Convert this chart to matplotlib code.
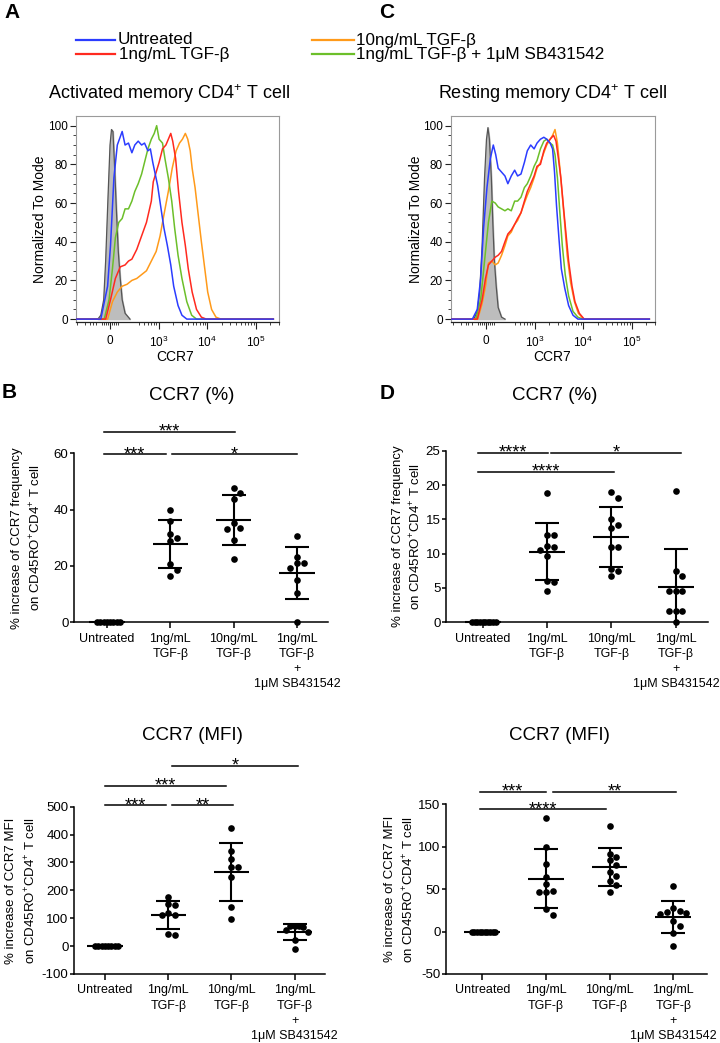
import numpy as np
import matplotlib
matplotlib.use("Agg")
import matplotlib.pyplot as plt
from matplotlib.lines import Line2D

plt.rcParams["font.family"] = ["Liberation Sans", "DejaVu Sans"]
plt.rcParams["mathtext.fontset"] = "custom"
plt.rcParams["mathtext.rm"] = "Liberation Sans"
plt.rcParams["mathtext.it"] = "Liberation Sans:italic"
plt.rcParams["mathtext.bf"] = "Liberation Sans:bold"
plt.rcParams["axes.unicode_minus"] = False

W, H = 720, 1043

# ---------------- histogram data ----------------
# x in biexponential display units (0 -> 0, 1 -> 10^3, 2 -> 10^4, 3 -> 10^5), y = % of mode
act_iso_x = [-0.25, -0.19, -0.13, -0.09, -0.04, 0.00, 0.03, 0.06, 0.09, 0.13, 0.17, 0.21, 0.25, 0.31, 0.41]
act_iso_y = [0, 2, 10, 30, 64, 90, 98, 97, 81, 57, 35, 21, 10, 3, 0]
act_untr_x = [-0.19, -0.05, 0.01, 0.08, 0.15, 0.25, 0.31, 0.38, 0.45, 0.51, 0.58, 0.65, 0.71, 0.78, 0.83,
              0.88, 0.98, 1.05, 1.11, 1.18, 1.25, 1.31, 1.40, 1.48, 1.58]
act_untr_y = [0, 17, 38, 73, 90, 97, 90, 91, 86, 90, 92, 90, 91, 87, 88, 81, 69, 57, 47, 38, 28, 17, 7, 2, 0]
act_tgf1_x = [-0.09, 0.01, 0.11, 0.21, 0.31, 0.38, 0.45, 0.55, 0.65, 0.75, 0.85, 0.89, 0.95, 1.01, 1.08,
              1.15, 1.20, 1.25, 1.29, 1.35, 1.41, 1.48, 1.55, 1.61, 1.69, 1.78, 1.88, 1.98]
act_tgf1_y = [0, 10, 21, 27, 28, 30, 31, 36, 43, 50, 61, 71, 76, 81, 88, 90, 93, 96, 92, 83, 66, 50, 38, 26,
              14, 5, 1, 0]
act_tgf10_x = [-0.05, 0.05, 0.15, 0.25, 0.35, 0.45, 0.55, 0.65, 0.75, 0.85, 0.95, 1.03, 1.11, 1.20, 1.28,
               1.36, 1.43, 1.49, 1.55, 1.60, 1.65, 1.69, 1.75, 1.81, 1.88, 1.95, 2.01, 2.09, 2.18, 2.28]
act_tgf10_y = [0, 9, 14, 17, 18, 20, 21, 23, 25, 30, 35, 43, 54, 66, 78, 87, 91, 93, 96, 93, 87, 78, 68, 55,
               40, 26, 14, 5, 1, 0]
act_sb_x = [-0.12, -0.02, 0.05, 0.11, 0.18, 0.25, 0.31, 0.38, 0.45, 0.51, 0.58, 0.65, 0.71, 0.78, 0.85,
            0.91, 0.96, 1.01, 1.08, 1.13, 1.20, 1.27, 1.33, 1.40, 1.48, 1.58, 1.68, 1.78]
act_sb_y = [0, 10, 26, 42, 50, 52, 57, 57, 61, 66, 70, 75, 81, 88, 93, 96, 100, 93, 91, 83, 73, 61, 47, 33,
            21, 9, 2, 0]

rest_iso_x = [-0.25, -0.18, -0.13, -0.08, -0.03, 0.01, 0.04, 0.07, 0.11, 0.14, 0.17, 0.21, 0.25, 0.32, 0.39]
rest_iso_y = [0, 4, 14, 38, 73, 93, 99, 93, 73, 50, 31, 17, 6, 1, 0]
rest_untr_x = [-0.28, -0.18, -0.11, -0.05, 0.02, 0.09, 0.15, 0.20, 0.25, 0.32, 0.39, 0.45, 0.52, 0.59, 0.65,
               0.72, 0.79, 0.85, 0.92, 0.99, 1.05, 1.12, 1.19, 1.25, 1.32, 1.37, 1.41, 1.45, 1.50, 1.55,
               1.62, 1.70, 1.79, 1.89]
rest_untr_y = [0, 5, 21, 47, 68, 83, 90, 85, 78, 76, 74, 70, 74, 77, 74, 75, 81, 87, 90, 88, 91, 93, 94, 93,
               91, 88, 76, 59, 42, 26, 16, 7, 2, 0]
rest_tgf1_x = [-0.18, -0.08, -0.01, 0.05, 0.12, 0.19, 0.25, 0.32, 0.39, 0.45, 0.52, 0.59, 0.65, 0.72, 0.79,
               0.85, 0.92, 0.99, 1.05, 1.12, 1.19, 1.25, 1.32, 1.39, 1.44, 1.49, 1.54, 1.59, 1.65, 1.70,
               1.77, 1.83, 1.92, 2.02]
rest_tgf1_y = [0, 10, 21, 28, 30, 32, 33, 35, 40, 44, 46, 49, 52, 55, 61, 66, 70, 74, 79, 80, 87, 91, 93, 95,
               92, 83, 73, 59, 43, 30, 17, 9, 3, 0]
rest_tgf10_x = [-0.17, -0.08, -0.01, 0.05, 0.12, 0.19, 0.25, 0.32, 0.39, 0.45, 0.52, 0.59, 0.65, 0.72, 0.79,
                0.85, 0.92, 0.99, 1.05, 1.12, 1.19, 1.25, 1.32, 1.37, 1.42, 1.47, 1.52, 1.57, 1.62, 1.67,
                1.74, 1.82, 1.90, 2.01]
rest_tgf10_y = [0, 8, 17, 29, 30, 28, 29, 33, 38, 43, 45, 49, 51, 55, 60, 64, 68, 73, 78, 81, 86, 90, 93, 95,
                98, 91, 78, 64, 49, 33, 19, 9, 3, 0]
rest_sb_x = [-0.21, -0.11, -0.01, 0.05, 0.12, 0.19, 0.25, 0.32, 0.39, 0.45, 0.52, 0.59, 0.65, 0.72, 0.79,
             0.85, 0.92, 0.99, 1.05, 1.12, 1.19, 1.25, 1.32, 1.37, 1.42, 1.47, 1.52, 1.57, 1.63, 1.70,
             1.79, 1.89, 1.99]
rest_sb_y = [0, 10, 35, 50, 61, 60, 58, 57, 56, 57, 56, 61, 61, 63, 68, 70, 74, 79, 82, 88, 92, 93, 91, 90,
             85, 73, 55, 38, 23, 12, 4, 1, 0]

legend_labels = ["Untreated", "1ng/mL TGF-β", "10ng/mL TGF-β", "1ng/mL TGF-β + 1μM SB431542"]
hist_colors = ["#2b3cff", "#ff2a1f", "#ff9a1a", "#6cbf2a"]
hist_xticks = [0, 1, 2, 3]
hist_xticklabels = ["0", "$10^3$", "$10^4$", "$10^5$"]

# ---------------- dot plot data ----------------
groups = ["Untreated", "1ng/mL\nTGF-β", "10ng/mL\nTGF-β", "1ng/mL\nTGF-β\n+\n1μM SB431542"]

b_pct = [[0, 0, 0, 0, 0, 0, 0, 0],
         [39.9, 36.1, 31.4, 30.1, 29.0, 20.7, 18.6, 16.4],
         [47.8, 46.0, 43.8, 35.1, 33.6, 33.0, 29.2, 22.4],
         [30.7, 23.3, 20.9, 20.9, 19.4, 15.0, 10.5, 0.0]]
b_mfi = [[0, 0, 0, 0, 0, 0, 0, 0],
         [174.5, 150.6, 147, 117, 111, 111, 41.8, 39.4],
         [424, 340.6, 310.7, 284, 284, 248.6, 141, 99],
         [72, 73, 70, 71, 58, 50, 22, -11]]
d_pct = [[0, 0, 0, 0, 0, 0, 0, 0, 0, 0],
         [18.8, 12.7, 12.7, 11.1, 11.0, 10.6, 9.6, 6.0, 5.8, 4.5],
         [19.0, 18.1, 15.0, 14.2, 13.8, 11.0, 11.0, 7.7, 7.5, 6.7],
         [19.2, 7.5, 6.7, 4.6, 4.6, 4.5, 1.6, 1.6, 1.6, 0.0]]
d_mfi = [[0, 0, 0, 0, 0, 0, 0, 0, 0, 0],
         [134.4, 99.8, 79.4, 64.8, 55.8, 48.3, 47.2, 47.2, 26.3, 19.6],
         [125, 92, 88, 84, 78, 70, 66, 60, 55, 47],
         [54, 28, 24, 23, 22, 21, 12, 7, -2, -16.5]]

# significance comparisons: (from group, to group, bar height, label)
b_pct_sig = [(-0.05, 2.02, 67.7, "***"), (-0.05, 0.93, 59.7, "***"), (1.03, 3.0, 59.7, "*")]
b_mfi_sig = [(1.06, 3.05, 646, "*"), (0.0, 1.91, 575, "***"), (0.0, 0.96, 505, "***"),
             (1.06, 2.02, 505, "**")]
d_pct_sig = [(-0.07, 1.02, 24.7, "****"), (1.06, 3.08, 24.7, "*"), (-0.07, 2.04, 21.9, "****")]
d_mfi_sig = [(-0.04, 1.0, 165, "***"), (1.11, 3.04, 165, "**"), (-0.04, 1.95, 144, "****")]


def px_axes(fig, l, t, r, b):
    return fig.add_axes([l / W, 1 - b / H, (r - l) / W, (b - t) / H])


def ftext(fig, x, y, s, **kw):
    fig.text(x / W, 1 - y / H, s, **kw)


fig = plt.figure(figsize=(7.2, 10.43), dpi=100)
fig.patch.set_facecolor("white")

# ---------------- histograms ----------------
hist_panels = [
    (76, 116, 279, 322, (-0.70, 3.36),
     [act_iso_x, act_iso_y],
     [(act_tgf10_x, act_tgf10_y), (act_sb_x, act_sb_y), (act_tgf1_x, act_tgf1_y), (act_untr_x, act_untr_y)]),
    (451, 116, 655, 322, (-0.72, 3.36),
     [rest_iso_x, rest_iso_y],
     [(rest_sb_x, rest_sb_y), (rest_tgf10_x, rest_tgf10_y), (rest_tgf1_x, rest_tgf1_y), (rest_untr_x, rest_untr_y)]),
]
line_cols = [[hist_colors[2], hist_colors[3], hist_colors[1], hist_colors[0]],
             [hist_colors[3], hist_colors[2], hist_colors[1], hist_colors[0]]]

minor_u = ([np.log10(k * 10 ** d) - 2 for d in (2, 3, 4) for k in range(4 if d == 2 else 2, 10)]
           + [3 + np.log10(2), 3 + np.log10(3)]
           + [-0.16, -0.12, -0.08, -0.04, 0.04, 0.08, 0.12, 0.16]
           + [-0.28, -0.36, -0.42, -0.52])

for (l, t, r, b, xl, iso, curves), cols in zip(hist_panels, line_cols):
    ax = px_axes(fig, l, t, r, b)
    ax.fill_between(iso[0], iso[1], 0, color="#bdbdbd", zorder=1)
    ax.plot(iso[0], iso[1], color="#555555", lw=0.9, zorder=2)
    for (cx, cy), c in zip(curves, cols):
        xx = np.concatenate([[xl[0]], cx, [xl[1]]])
        yy = np.concatenate([[0], cy, [0]])
        ax.plot(xx, yy, color=c, lw=1.1, zorder=3)
    ax.set_xlim(*xl)
    ax.set_ylim(-1.5, 105)
    ax.set_yticks([0, 20, 40, 60, 80, 100])
    ax.set_yticks(np.arange(0, 105, 5), minor=True)
    ax.set_xticks(hist_xticks)
    ax.set_xticklabels(hist_xticklabels)
    ax.set_xticks(minor_u + [-0.68], minor=True)
    ax.tick_params(axis="both", which="major", labelsize=8.5, length=4, width=0.8, color="#222222",
                   pad=2)
    ax.tick_params(axis="both", which="minor", length=2.2, width=0.6, color="#222222")
    ax.tick_params(axis="x", which="major", length=5, pad=4)
    for s in ["top", "right", "left"]:
        ax.spines[s].set_color("#9a9a9a")
        ax.spines[s].set_linewidth(0.8)
    ax.spines["bottom"].set_color("#222222")
    ax.spines["bottom"].set_linewidth(0.9)

ftext(fig, 40, 219, "Normalized To Mode", rotation=90, ha="center", va="center", fontsize=10)
ftext(fig, 416, 219, "Normalized To Mode", rotation=90, ha="center", va="center", fontsize=10)
ftext(fig, 175, 357, "CCR7", ha="center", va="center", fontsize=10)
ftext(fig, 552, 357, "CCR7", ha="center", va="center", fontsize=10)
ftext(fig, 169, 94, "Activated memory CD4$^{+}$ T cell", ha="center", va="center", fontsize=13)
ftext(fig, 552, 94, "Resting memory CD4$^{+}$ T cell", ha="center", va="center", fontsize=13)

# legend
leg_pos = [(76, 115, 118, 40), (76, 115, 119, 54), (312, 354, 356, 40), (312, 354, 356, 54)]
for (x0, x1, tx, y), lab, c in zip(leg_pos, legend_labels, hist_colors):
    fig.add_artist(Line2D([x0 / W, x1 / W], [1 - y / H, 1 - y / H], color=c, lw=1.6))
    ftext(fig, tx, y, lab, ha="left", va="center", fontsize=12.3)

# panel letters
for lab, x, y in [("A", 12, 13), ("C", 387, 13), ("B", 9, 393), ("D", 387, 394)]:
    ftext(fig, x, y, lab, ha="center", va="center", fontsize=15, fontweight="bold")


# ---------------- dot plots ----------------
def swarm(vals, ppu_y, diam, max_half):
    vals = np.asarray(vals, dtype=float)
    order = np.argsort(-vals, kind="stable")
    placed = []
    offs = np.zeros(len(vals))
    for i in order:
        y = vals[i] * ppu_y
        for k in range(60):
            cand = 0.0 if k == 0 else ((k + 1) // 2) * diam * (1 if k % 2 else -1)
            if all((cand - px) ** 2 + (y - py) ** 2 >= 0.98 * diam ** 2 for py, px in placed):
                break
        placed.append((y, cand))
        offs[i] = cand
    m = np.abs(offs).max()
    if m > max_half:
        offs *= max_half / m
    return offs


dot_panels = [
    (74, 453.3, 328, 622.3, (-0.52, 3.49), (0, 60), [0, 20, 40, 60], b_pct, b_pct_sig,
     "CCR7 (%)", 192, 396, "% increase of CCR7 frequency", 17, 36),
    (74, 806.7, 325, 974, (-0.49, 3.48), (-100, 500), [-100, 0, 100, 200, 300, 400, 500], b_mfi, b_mfi_sig,
     "CCR7 (MFI)", 192, 736, "% increase of CCR7 MFI", 11, 31),
    (446, 450.7, 708, 622.3, (-0.57, 3.5), (0, 25), [0, 5, 10, 15, 20, 25], d_pct, d_pct_sig,
     "CCR7 (%)", 555, 396, "% increase of CCR7 frequency", 398, 416),
    (446, 804.3, 707, 974, (-0.57, 3.53), (-50, 150), [-50, 0, 50, 100, 150], d_mfi, d_mfi_sig,
     "CCR7 (MFI)", 559, 736, "% increase of CCR7 MFI", 390, 409),
]

for (l, t, r, b, xl, yl, yt, data, sig, title, tx, ty, ylab1, lx1, lx2) in dot_panels:
    ax = px_axes(fig, l, t, r, b)
    ax.set_xlim(*xl)
    ax.set_ylim(*yl)
    ppu_y = (b - t) / (yl[1] - yl[0])
    ppu_x = (r - l) / (xl[1] - xl[0])
    for gi, vals in enumerate(data):
        offs = swarm(vals, ppu_y, 6.6, 13.0) / ppu_x
        ax.scatter(gi + offs, vals, s=23, color="black", zorder=4, clip_on=False, linewidths=0)
        m = np.mean(vals)
        sd = np.std(vals, ddof=1)
        if sd > 0:
            ax.errorbar(gi, m, yerr=sd, fmt="none", ecolor="black", elinewidth=1.5, capsize=8.3,
                        capthick=1.5, zorder=5)
        ax.hlines(m, gi - 0.28, gi + 0.28, color="black", lw=1.5, zorder=5, clip_on=False)
    for x0, x1, y, lab in sig:
        ax.plot([x0, x1], [y, y], color="black", lw=1.1, clip_on=False)
        ax.annotate(lab, ((x0 + x1) / 2, y), xytext=(0, -3.5), textcoords="offset points",
                    ha="center", va="baseline", fontsize=13, annotation_clip=False)
    ax.set_xticks(range(4))
    ax.set_xticklabels(groups, fontsize=9, linespacing=1.35)
    ax.set_yticks(yt)
    ax.tick_params(axis="y", labelsize=9.5, length=3, width=1.1, pad=1)
    ax.tick_params(axis="x", length=4, width=1.1, pad=3.5)
    for s in ["top", "right"]:
        ax.spines[s].set_visible(False)
    for s in ["left", "bottom"]:
        ax.spines[s].set_linewidth(1.1)
    ftext(fig, tx, ty, title, ha="center", va="center", fontsize=13.5)
    yc = (t + b) / 2
    ftext(fig, lx1, yc, ylab1, rotation=90, ha="center", va="center", fontsize=9.5)
    ftext(fig, lx2, yc, "on CD45RO$^{+}$CD4$^{+}$ T cell", rotation=90, ha="center", va="center",
          fontsize=9.5)

fig.savefig("out.png", dpi=100)
